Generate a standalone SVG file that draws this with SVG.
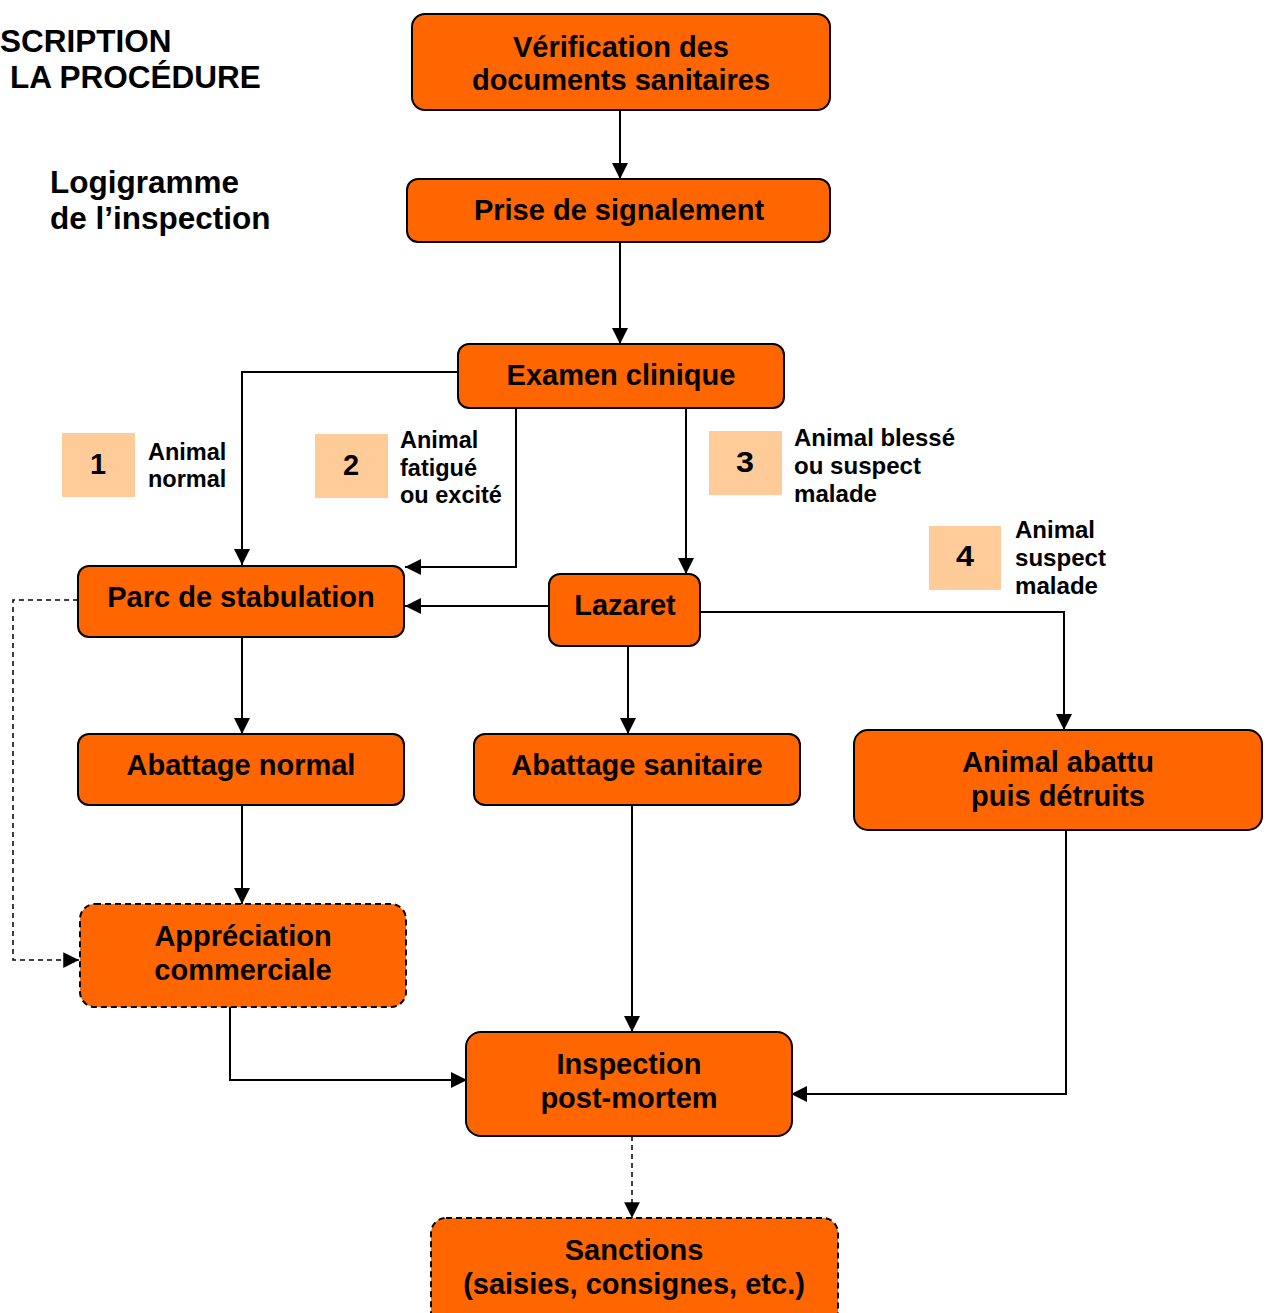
<svg xmlns="http://www.w3.org/2000/svg" width="1267" height="1313" viewBox="0 0 1267 1313">
<style>
text{font-family:"Liberation Sans",Arial,sans-serif;font-weight:bold;fill:#000}
.node rect{fill:#FF6600;stroke:#000;stroke-width:2}
.node.dash rect{stroke-dasharray:6 4}
.nt{font-size:29px;text-anchor:middle}
.title{font-size:31.5px}
.badge{fill:#FFCC99}
.num{font-size:29px;text-anchor:middle}
.lbl{font-size:23.5px}
.cond{font-size:24px}
#connectors path{fill:none;stroke:#000;stroke-width:2}
#connectors path.d{stroke-dasharray:5 4;stroke-width:1.5}
</style>
<defs>
<marker id="ah" viewBox="0 0 10 10" refX="10" refY="5" markerWidth="8" markerHeight="8" markerUnits="strokeWidth" orient="auto">
<path d="M0,0 L10,5 L0,10 z" fill="#000"/>
</marker>
<marker id="ahd" viewBox="0 0 10 10" refX="10" refY="5" markerWidth="10.5" markerHeight="10.5" markerUnits="strokeWidth" orient="auto">
<path d="M0,0 L10,5 L0,10 z" fill="#000"/>
</marker>
</defs>
<rect width="1267" height="1313" fill="#fff"/>

<g id="title">
<text class="title" x="0" y="52">SCRIPTION</text>
<text class="title" x="10" y="88"> LA PROCÉDURE</text>
<text class="title" x="50" y="193">Logigramme</text>
<text class="title" x="50" y="229">de l’inspection</text>
</g>

<g id="connectors">
<path d="M620,110 V179" marker-end="url(#ah)"/>
<path d="M620,242 V344" marker-end="url(#ah)"/>
<path d="M458,372 H242 V565" marker-end="url(#ah)"/>
<path d="M516,408 V567 H405" marker-end="url(#ah)"/>
<path d="M686,408 V574" marker-end="url(#ah)"/>
<path d="M549,606 H405" marker-end="url(#ah)"/>
<path d="M700,612 H1064 V730" marker-end="url(#ah)"/>
<path d="M628,646 V734" marker-end="url(#ah)"/>
<path d="M242,637 V734" marker-end="url(#ah)"/>
<path d="M242,805 V904" marker-end="url(#ah)"/>
<path class="d" d="M78,600 H13 V960 H79" marker-end="url(#ahd)"/>
<path d="M230,1007 V1080 H467" marker-end="url(#ah)"/>
<path d="M632,805 V1032" marker-end="url(#ah)"/>
<path d="M1066,830 V1094 H791" marker-end="url(#ah)"/>
<path class="d" d="M632,1136 V1218" marker-end="url(#ahd)"/>
</g>

<g id="n-verif" class="node">
<rect x="412" y="14" width="418" height="96" rx="13"/>
<text class="nt" x="621" y="57">Vérification des</text>
<text class="nt" x="621" y="90">documents sanitaires</text>
</g>
<g id="n-prise" class="node">
<rect x="407" y="179" width="423" height="63" rx="11"/>
<text class="nt" x="619" y="220">Prise de signalement</text>
</g>
<g id="n-examen" class="node">
<rect x="458" y="344" width="326" height="64" rx="11"/>
<text class="nt" x="621" y="385">Examen clinique</text>
</g>
<g id="n-parc" class="node">
<rect x="78" y="566" width="326" height="71" rx="11"/>
<text class="nt" x="241" y="607">Parc de stabulation</text>
</g>
<g id="n-lazaret" class="node">
<rect x="549" y="574" width="151" height="72" rx="11"/>
<text class="nt" x="625" y="615">Lazaret</text>
</g>
<g id="n-abnormal" class="node">
<rect x="78" y="734" width="326" height="71" rx="11"/>
<text class="nt" x="241" y="775">Abattage normal</text>
</g>
<g id="n-absanit" class="node">
<rect x="474" y="734" width="326" height="71" rx="11"/>
<text class="nt" x="637" y="775">Abattage sanitaire</text>
</g>
<g id="n-abattu" class="node">
<rect x="854" y="730" width="408" height="100" rx="14"/>
<text class="nt" x="1058" y="772">Animal abattu</text>
<text class="nt" x="1058" y="806">puis détruits</text>
</g>
<g id="n-appr" class="node dash">
<rect x="80" y="904" width="326" height="103" rx="15"/>
<text class="nt" x="243" y="946">Appréciation</text>
<text class="nt" x="243" y="980">commerciale</text>
</g>
<g id="n-insp" class="node">
<rect x="466" y="1032" width="326" height="104" rx="15"/>
<text class="nt" x="629" y="1074">Inspection</text>
<text class="nt" x="629" y="1108">post-mortem</text>
</g>
<g id="n-sanctions" class="node dash">
<rect x="431" y="1218" width="407" height="110" rx="15"/>
<text class="nt" x="634" y="1260">Sanctions</text>
<text class="nt" x="634" y="1294">(saisies, consignes, etc.)</text>
</g>

<g id="label-1">
<rect class="badge" x="62" y="433" width="73" height="64"/>
<text class="num" x="98" y="474">1</text>
<text class="lbl" x="148" y="460">Animal</text>
<text class="lbl" x="148" y="487">normal</text>
</g>
<g id="label-2">
<rect class="badge" x="315" y="434" width="73" height="64"/>
<text class="num" x="351" y="475">2</text>
<text class="lbl" x="400" y="448">Animal</text>
<text class="lbl" x="400" y="476">fatigué</text>
<text class="lbl" x="400" y="503">ou excité</text>
</g>
<g id="label-3">
<rect class="badge" x="709" y="431" width="73" height="64"/>
<text class="num" x="745" y="472" textLength="18" lengthAdjust="spacingAndGlyphs">3</text>
<text class="cond" x="794" y="446" textLength="161" lengthAdjust="spacingAndGlyphs">Animal blessé</text>
<text class="cond" x="794" y="474" textLength="127" lengthAdjust="spacingAndGlyphs">ou suspect</text>
<text class="cond" x="794" y="502" textLength="83" lengthAdjust="spacingAndGlyphs">malade</text>
</g>
<g id="label-4">
<rect class="badge" x="929" y="526" width="72" height="64"/>
<text class="num" x="965" y="566" textLength="18" lengthAdjust="spacingAndGlyphs">4</text>
<text class="cond" x="1015" y="538" textLength="80" lengthAdjust="spacingAndGlyphs">Animal</text>
<text class="cond" x="1015" y="566" textLength="91" lengthAdjust="spacingAndGlyphs">suspect</text>
<text class="cond" x="1015" y="594" textLength="83" lengthAdjust="spacingAndGlyphs">malade</text>
</g>
</svg>
